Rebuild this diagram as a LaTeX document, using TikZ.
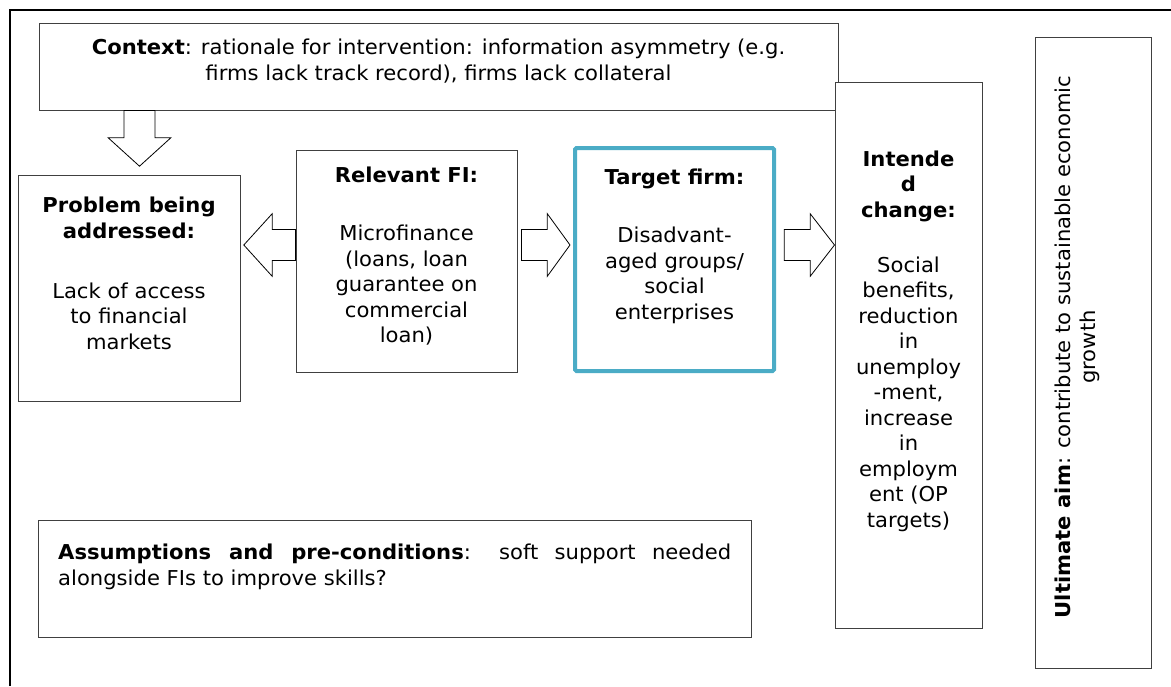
\documentclass[tikz,border=0pt]{standalone}
\usepackage{fontspec}
\setmainfont{DejaVu Sans}[FakeStretch=1.03]
\usetikzlibrary{calc}

\definecolor{boxline}{HTML}{404040}
\definecolor{firmteal}{HTML}{4BACC6}

% horizontal block arrow: tail anchor, tail offset, tip anchor, tip offset, axis y, signed head length
\newcommand\harrow[6]{%
  \draw[blockarrow] let \p1=(#1), \p2=(#3), \p3=(0,#5) in
    (\x1+#2pt,\y3+15.5pt) -- (\x2+#4pt-#6pt,\y3+15.5pt) -- (\x2+#4pt-#6pt,\y3+31.3pt)
    -- (\x2+#4pt,\y3) -- (\x2+#4pt-#6pt,\y3-31.3pt) -- (\x2+#4pt-#6pt,\y3-15.5pt)
    -- (\x1+#2pt,\y3-15.5pt) -- cycle;}
% downward block arrow: tail anchor, tip anchor, tip lift, axis x, head length
\newcommand\varrow[5]{%
  \draw[blockarrow] let \p1=(#1), \p2=(#2), \p3=(#4,0) in
    (\x3-15.5pt,\y1) -- (\x3-15.5pt,\y2+#3pt+#5pt) -- (\x3-31.3pt,\y2+#3pt+#5pt)
    -- (\x3,\y2+#3pt) -- (\x3+31.3pt,\y2+#3pt+#5pt) -- (\x3+15.5pt,\y2+#3pt+#5pt)
    -- (\x3+15.5pt,\y1) -- cycle;}

\begin{document}
\begin{tikzpicture}[x=1pt,y=-1pt,
  box/.style={draw=boxline, line width=1pt, fill=white, inner sep=0pt},
  firmbox/.style={draw=firmteal, line width=4pt, fill=white, inner sep=0pt, rounded corners=1.5pt},
  blockarrow/.style={draw=black, line width=0.8pt, fill=white, line join=miter},
  txt/.style={inner sep=0pt, align=center, font=\fontsize{20.5}{25.5}\selectfont},
  frame/.style={draw=black, line width=1.6pt}]
\useasboundingbox (0,0) rectangle (1171,686);

% outer frame
\draw[frame] (10,686) -- (10,10) -- (1171,10);

% boxes
\node[box, minimum width=799pt, minimum height=87pt] (ctx) at (438.5,66.5) {};
\node[box, minimum width=222pt, minimum height=226pt] (prob) at (129,288) {};
\node[box, minimum width=221pt, minimum height=222pt] (fi) at (406.5,261) {};
\node[firmbox, minimum width=199pt, minimum height=223pt] (tgt) at (674.5,259.5) {};
\node[box, minimum width=147pt, minimum height=546pt] (int) at (908.5,355) {};
\node[box, minimum width=116pt, minimum height=631pt] (ult) at (1093,352.5) {};
\node[box, minimum width=713pt, minimum height=117pt] (asm) at (394.5,578.5) {};

% block arrows
\varrow{ctx.south}{prob.north}{8.3}{139.5}{28.4}
\harrow{fi.west}{0}{prob.east}{3.3}{245}{-28.4}
\harrow{fi.east}{4}{tgt.west}{-3}{245}{22.7}
\harrow{tgt.east}{8.3}{int.west}{0}{245}{24.3}

% texts
\node[txt, anchor=north] (ctxt) at (438.5,39)
  {\textbf{Context}: rationale for intervention: information asymmetry (e.g.\\
   firms lack track record), firms lack collateral};
\node[txt, anchor=north] (probt) at (129,197)
  {\textbf{Problem being}\\\textbf{addressed:}\\[34.5pt]
   Lack of access\\to financial\\markets};
\node[txt, anchor=north] (fit) at (406.5,167)
  {\textbf{Relevant FI:}\\[32.5pt]
   Microfinance\\(loans, loan\\guarantee on\\commercial\\loan)};
\node[txt, anchor=north] (tgtt) at (674.5,169)
  {\textbf{Target firm:}\\[32.5pt]
   Disadvant-\\aged groups/\\social\\enterprises};
\node[txt, anchor=north] (intt) at (908.5,150.5)
  {\textbf{Intende}\\\textbf{d}\\\textbf{change:}\\[29.5pt]
   Social\\benefits,\\reduction\\in\\unemploy\\-ment,\\increase\\in\\employm\\ent (OP\\targets)};
\node[txt, rotate=90] (ultt) at (1077.5,347)
  {\textbf{Ultimate aim}: contribute to sustainable economic\\growth};
\node[txt, anchor=north west, align=justify, text width=673pt] (asmt) at (58,544)
  {\textbf{Assumptions and pre-conditions}: soft support needed\linebreak
   alongside FIs to improve skills?};
\end{tikzpicture}
\end{document}
